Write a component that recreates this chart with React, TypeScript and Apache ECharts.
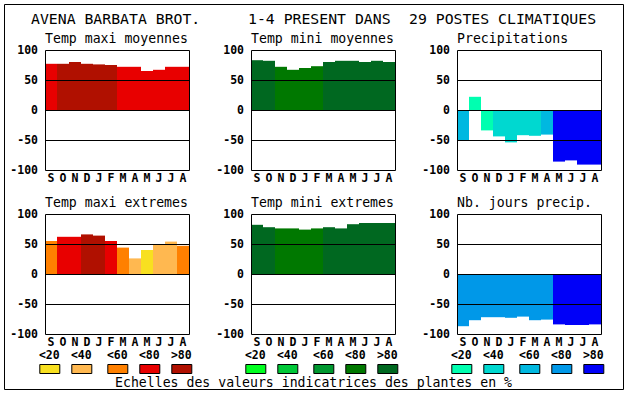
import React, { useEffect, useRef } from "react";
import * as echarts from "echarts";

const months = ["S", "O", "N", "D", "J", "F", "M", "A", "M", "J", "J", "A"];
const yTicks = [-100, -50, 0, 50, 100];
const refLines = [50, 0, -50];

const tmaxMoy = [77, 77, 80, 77, 76, 75, 72, 72, 65, 67, 72, 72];
const tmaxMoyClass = [3, 4, 4, 4, 4, 4, 3, 3, 3, 3, 3, 3];
const tminMoy = [83, 82, 72, 67, 70, 73, 80, 82, 82, 80, 82, 80];
const tminMoyClass = [4, 4, 3, 3, 3, 3, 4, 4, 4, 4, 4, 4];
const precip = [-50, 22, -34, -44, -54, -42, -43, -41, -86, -84, -91, -91];
const precipClass = [2, 0, 0, 1, 1, 1, 1, 2, 4, 4, 4, 4];
const tmaxExt = [55, 62, 62, 66, 64, 55, 44, 26, 40, 49, 54, 47];
const tmaxExtClass = [2, 3, 3, 4, 4, 3, 2, 1, 0, 1, 1, 2];
const tminExt = [82, 78, 76, 76, 74, 76, 78, 76, 83, 85, 85, 85];
const tminExtClass = [4, 4, 3, 3, 3, 3, 4, 4, 4, 4, 4, 4];
const nbJours = [-87, -77, -72, -72, -73, -71, -77, -76, -84, -85, -85, -84];
const nbJoursClass = [3, 3, 3, 3, 3, 3, 3, 3, 4, 4, 4, 4];

const legendLabels = ["<20", "<40", "<60", "<80", ">80"];
const redScale = ["#f8e020", "#ffb850", "#ff8000", "#e80000", "#b01000"];
const greenScale = ["#00ff20", "#00c838", "#009830", "#007800", "#006820"];
const blueScale = ["#00ffb0", "#00d8d0", "#00b8e0", "#0098e8", "#0000f8"];

const titles = ["AVENA BARBATA BROT.", "1-4 PRESENT DANS", "29 POSTES CLIMATIQUES"];
const panelTitles = [
  "Temp maxi moyennes",
  "Temp mini moyennes",
  "Precipitations",
  "Temp maxi extremes",
  "Temp mini extremes",
  "Nb. jours precip.",
];
const footer = "Echelles des valeurs indicatrices des plantes en %";

const panels = [
  { values: tmaxMoy, cls: tmaxMoyClass, scale: redScale },
  { values: tminMoy, cls: tminMoyClass, scale: greenScale },
  { values: precip, cls: precipClass, scale: blueScale },
  { values: tmaxExt, cls: tmaxExtClass, scale: redScale },
  { values: tminExt, cls: tminExtClass, scale: greenScale },
  { values: nbJours, cls: nbJoursClass, scale: blueScale },
];
const colScales = [redScale, greenScale, blueScale];

const FONT = "'DejaVu Sans Mono', 'Liberation Mono', monospace";
const colX = [45, 251, 457];
const rowY = [50, 214];
const PW = 144;
const PH = 120;
const swatchOff = [-5.7, 26.3, 62.3, 94.3, 126.3];

export default function App() {
  const ref = useRef<HTMLDivElement>(null);
  useEffect(() => {
    if (!ref.current) return;
    const chart = echarts.init(ref.current, undefined, { renderer: "svg" });
    const grids: any[] = [];
    const xAxes: any[] = [];
    const yAxes: any[] = [];
    const series: any[] = [];
    const graphics: any[] = [];

    graphics.push({
      type: "rect",
      shape: { x: 4.5, y: 4.5, width: 619, height: 385 },
      style: { fill: "none", stroke: "#000", lineWidth: 1 },
      z: 100,
    });
    const titleX = [31, 248, 409];
    titles.forEach((t, i) => {
      graphics.push({
        type: "text",
        x: titleX[i],
        y: 18,
        z: 100,
        style: {
          text: t,
          fontFamily: FONT,
          fontSize: 14.8,
          fill: "#000",
          align: "left",
          textAlign: "left",
          verticalAlign: "middle",
          textVerticalAlign: "middle",
        },
      });
    });

    panels.forEach((p, i) => {
      const col = i % 3;
      const row = Math.floor(i / 3);
      const left = colX[col];
      const top = rowY[row];
      grids.push({ left, top, width: PW, height: PH, show: true, backgroundColor: "#fff", borderWidth: 0 });
      xAxes.push({
        type: "category",
        gridIndex: i,
        data: months,
        boundaryGap: true,
        axisLine: { show: false },
        axisTick: { show: false },
        splitLine: { show: false },
        axisLabel: {
          interval: 0,
          margin: 3,
          fontFamily: FONT,
          fontSize: 11.5,
          lineHeight: 10,
          fontWeight: "bold",
          color: "#000",
        },
      });
      yAxes.push({
        type: "value",
        gridIndex: i,
        min: -100,
        max: 100,
        interval: 50,
        axisLine: { show: false },
        axisTick: { show: false },
        splitLine: { show: false },
        axisLabel: {
          margin: 7,
          fontFamily: FONT,
          fontSize: 11.5,
          lineHeight: 10,
          fontWeight: "bold",
          color: "#000",
          formatter: (v: number) => (yTicks.includes(v) ? String(v) : ""),
        },
      });
      series.push({
        type: "bar",
        xAxisIndex: i,
        yAxisIndex: i,
        barCategoryGap: "0%",
        data: p.values.map((v, k) => ({ value: v, itemStyle: { color: p.scale[p.cls[k]] } })),
        markLine: {
          silent: true,
          symbol: ["none", "none"],
          label: { show: false },
          lineStyle: { color: "#000", width: 1, type: "solid" },
          data: refLines.map((y) => ({ yAxis: y })),
        },
      });
      graphics.push({
        type: "rect",
        shape: { x: left + 0.5, y: top + 0.5, width: PW, height: PH },
        style: { fill: "none", stroke: "#000", lineWidth: 1 },
        z: 100,
      });
      graphics.push({
        type: "text",
        x: left,
        y: top - 12,
        z: 100,
        style: {
          text: panelTitles[i],
          fontFamily: FONT,
          fontSize: 13.2,
          lineHeight: 12,
          fill: "#000",
          align: "left",
          textAlign: "left",
          verticalAlign: "middle",
          textVerticalAlign: "middle",
        },
      });
    });

    colScales.forEach((sc, c) => {
      sc.forEach((color, k) => {
        const x = colX[c] + swatchOff[k];
        graphics.push({
          type: "rect",
          shape: { x: x + 0.5, y: 364.5, width: 20, height: 9 },
          style: { fill: color, stroke: "#000", lineWidth: 1 },
          z: 100,
        });
        graphics.push({
          type: "text",
          x: x + 10,
          y: 355,
          z: 100,
          style: {
            text: legendLabels[k],
            fontFamily: FONT,
            fontSize: 11.5,
            lineHeight: 10,
            fontWeight: "bold",
            fill: "#000",
            align: "center",
            textAlign: "center",
            verticalAlign: "middle",
            textVerticalAlign: "middle",
          },
        });
      });
    });

    graphics.push({
      type: "text",
      x: 115,
      y: 382,
      z: 100,
      style: {
        text: footer,
        fontFamily: FONT,
        fontSize: 13.2,
        lineHeight: 12,
        fill: "#000",
        align: "left",
        textAlign: "left",
        verticalAlign: "middle",
        textVerticalAlign: "middle",
      },
    });

    chart.setOption({
      animation: false,
      backgroundColor: "#fff",
      grid: grids,
      xAxis: xAxes,
      yAxis: yAxes,
      series,
      graphic: { elements: graphics },
    });
    return () => chart.dispose();
  }, []);
  return (
    <div
      ref={ref}
      style={{ position: "fixed", left: 0, top: 0, width: 630, height: 394, background: "#fff" }}
    />
  );
}
